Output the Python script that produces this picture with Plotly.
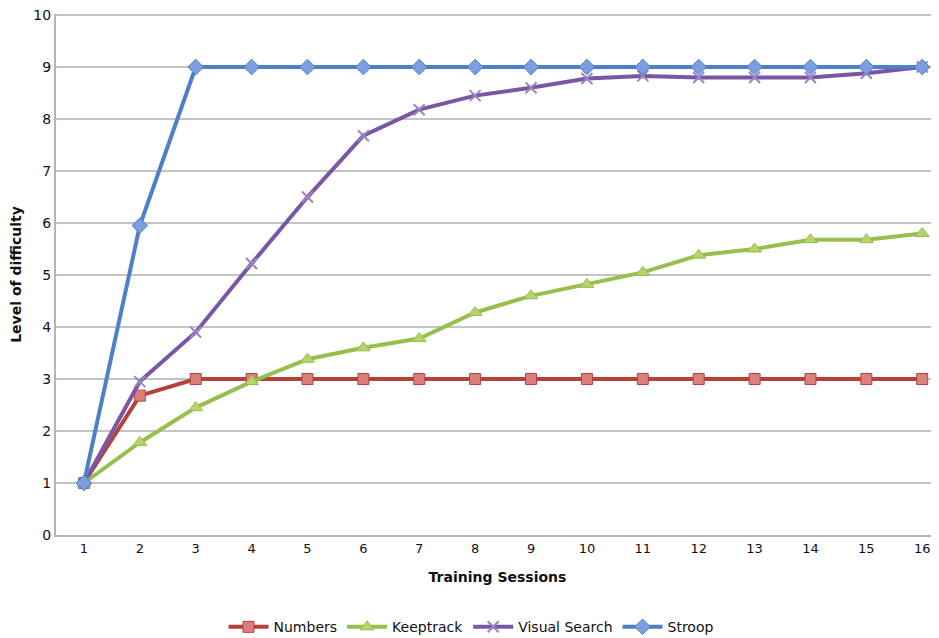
import plotly.graph_objects as go

sessions = list(range(1, 17))
numbers = [1, 2.68, 3, 3, 3, 3, 3, 3, 3, 3, 3, 3, 3, 3, 3, 3]
keeptrack = [1, 1.78, 2.45, 2.95, 3.38, 3.6, 3.78, 4.28, 4.6, 4.82, 5.05, 5.38, 5.5, 5.68, 5.68, 5.8]
visual_search = [1, 2.95, 3.9, 5.22, 6.5, 7.68, 8.18, 8.45, 8.6, 8.78, 8.83, 8.8, 8.8, 8.8, 8.88, 9.0]
stroop = [1, 5.95, 9, 9, 9, 9, 9, 9, 9, 9, 9, 9, 9, 9, 9, 9]

series = [
    ("Numbers", numbers, "#B8403C", "#D9807C", "square", 11),
    ("Keeptrack", keeptrack, "#98BE4E", "#B5D46E", "triangle-up", 12),
    ("Visual Search", visual_search, "#7B56A4", "#9C84C2", "x-thin", 11),
    ("Stroop", stroop, "#4F7FC8", "#7A9FE0", "diamond", 12),
]

fig = go.Figure()
for name, vals, lc, mc, sym, sz in series:
    fig.add_trace(go.Scatter(
        x=sessions, y=vals, name=name, mode="lines+markers",
        line=dict(color=lc, width=4),
        marker=dict(symbol=sym, size=sz, color=mc,
                    line=dict(color=lc if sym != "x-thin" else "#9C84C2", width=1 if sym != "x-thin" else 2)),
    ))

fig.update_layout(
    width=931, height=630,
    margin=dict(l=48, r=0, t=6, b=103, autoexpand=False),
    plot_bgcolor="white", paper_bgcolor="white",
    font=dict(family="DejaVu Sans", size=13, color="#111"),
    showlegend=True,
    legend=dict(orientation="h", x=0.47, xanchor="center", y=-0.177, yanchor="middle",
                font=dict(size=14), itemwidth=40, traceorder="normal"),
    xaxis=dict(
        range=[0.5, 16.3], tickmode="array", tickvals=sessions,
        ticktext=[str(s) for s in sessions], showgrid=False,
        showline=True, linecolor="#b5b5b5", linewidth=2, ticks="",
        title=dict(text="<b>Training Sessions</b>", font=dict(size=14), standoff=18),
        zeroline=False, automargin=False,
    ),
    yaxis=dict(
        range=[0, 10.02], tickmode="array", tickvals=list(range(0, 11)),
        showgrid=True, gridcolor="#c4c4c4", gridwidth=2,
        showline=True, linecolor="#b5b5b5", linewidth=2, ticks="",
        title=dict(text="<b>Level of difficulty</b>", font=dict(size=14), standoff=12),
        zeroline=False, tickfont=dict(size=14), automargin=False,
        ticklabeloverflow="allow",
    ),
)

fig.write_html("out.html")
